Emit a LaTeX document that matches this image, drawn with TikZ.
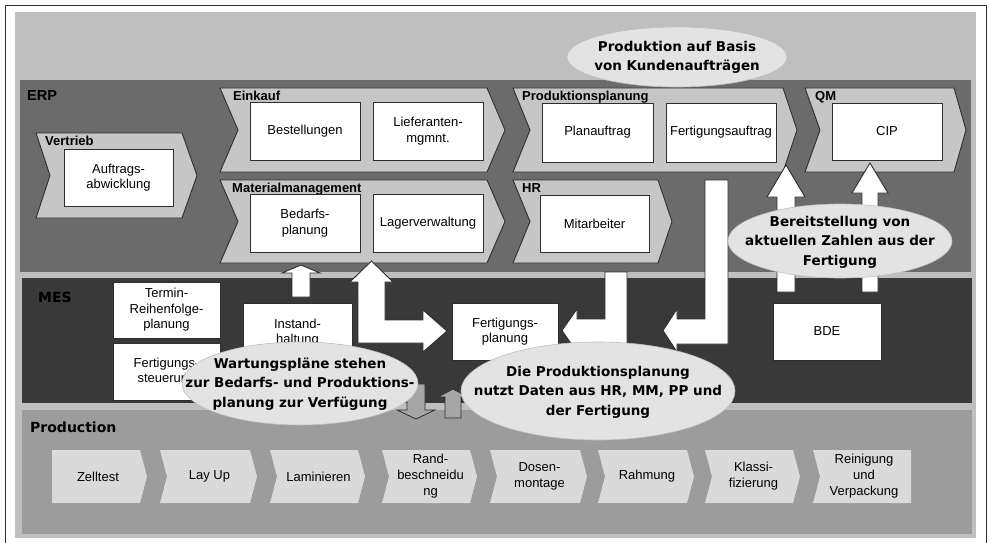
\documentclass[tikz,border=0pt]{standalone}
\usepackage{fontspec}
\setmainfont{Liberation Sans}
\newfontfamily\vfont{DejaVu Sans}
\usetikzlibrary{shapes.geometric}
\definecolor{bgc}{HTML}{BFBFBF}
\definecolor{erpc}{HTML}{6B6B6B}
\definecolor{mesc}{HTML}{393939}
\definecolor{prodc}{HTML}{9C9C9C}
\definecolor{chevc}{HTML}{C6C6C6}
\definecolor{pchevc}{HTML}{DADADA}
\definecolor{ellc}{HTML}{E3E3E3}
\definecolor{linec}{HTML}{2E2E2E}
\definecolor{garrc}{HTML}{A6A6A6}
\newcommand\pchevron[4]{%
  \fill[pchev] (#1,450) -- ({#2-7},450) -- (#2,476.5) -- ({#2-7},503) -- (#1,503) -- ({#1+7},476.5) -- cycle;
  \node[ptext] (#3) at ({(#1+#2)/2+1},476.5) {#4};}
\begin{document}
\begin{tikzpicture}[x=1pt,y=-1pt,
  box/.style={draw=linec, fill=white, line width=0.9pt, font=\fontsize{13}{15.5}\selectfont, align=center, inner sep=0pt},
  lbl/.style={font=\fontsize{13}{15}\selectfont\bfseries, anchor=base west, inner sep=0pt},
  bandlbl/.style={font=\vfont\fontsize{14}{16}\selectfont\bfseries, anchor=base west, inner sep=0pt},
  chev/.style={draw=linec, fill=chevc, line width=0.9pt, line join=miter},
  pchev/.style={fill=pchevc},
  ptext/.style={font=\fontsize{13}{16}\selectfont, align=center, inner sep=0pt},
  notebg/.style={fill=ellc, draw=black!25, line width=0.6pt},
  notetext/.style={font=\vfont\fontsize{13.5}{19.5}\selectfont\bfseries, align=center, inner sep=0pt},
  warr/.style={draw=linec, fill=white, line width=0.9pt, line join=miter},
  garr/.style={draw=linec, fill=garrc, line width=0.8pt, line join=miter}]
\useasboundingbox (0,0) rectangle (989,543);
% frame and background
\fill[white] (0,0) rectangle (989,543);
\draw[line width=1pt, black!80] (5,543) -- (5,6) -- (986,6) -- (986,543);
\fill[bgc] (15,12) rectangle (976,538);
% bands
\fill[erpc] (20,80) rectangle (971,272);
\fill[mesc] (22,278) rectangle (972,403);
\fill[prodc] (22,410) rectangle (972,534);
\node[font=\fontsize{14.5}{16}\selectfont\bfseries, anchor=base west, inner sep=0pt] (erp) at (27,100) {ERP};
\node[bandlbl] (mes) at (38,302) {MES};
\node[bandlbl] (prod) at (30,432) {Production};
% ERP chevrons
\draw[chev] (36,133) -- (182,133) -- (197,175.5) -- (182,218) -- (36,218) -- (50,175.5) -- cycle;
\draw[chev] (220,88) -- (487,88) -- (505,130) -- (487,172) -- (220,172) -- (238,130) -- cycle;
\draw[chev] (220,180) -- (487,180) -- (505,221.5) -- (487,263) -- (220,263) -- (238,221.5) -- cycle;
\draw[chev] (513,88) -- (783,88) -- (797,130) -- (783,172) -- (513,172) -- (530,130) -- cycle;
\draw[chev] (513,180) -- (658,180) -- (672,221.5) -- (658,263) -- (513,263) -- (530,221.5) -- cycle;
\draw[chev] (805,88) -- (954,88) -- (966,130) -- (954,172) -- (805,172) -- (820,130) -- cycle;
\node[lbl] (lvertrieb) at (45,145) {Vertrieb};
\node[lbl] (leinkauf) at (233,100) {Einkauf};
\node[lbl] (lmat) at (232,192) {Materialmanagement};
\node[lbl] (lpp) at (522,101) {Produktionsplanung};
\node[lbl] (lhr) at (522,192) {HR};
\node[lbl] (lqm) at (815,101) {QM};
% ERP boxes
\node[box, minimum width=109, minimum height=57] (auftrag) at (118.5,177.5) {Auftrags-\\abwicklung};
\node[box, minimum width=110, minimum height=58] (bestell) at (305,131) {Bestellungen};
\node[box, minimum width=110, minimum height=58] (liefer) at (428,131) {Lieferanten-\\mgmnt.};
\node[box, minimum width=110, minimum height=58] (bedarf) at (305,223) {Bedarfs-\\planung};
\node[box, minimum width=110, minimum height=58] (lager) at (428,223) {Lagerverwaltung};
\node[box, minimum width=111, minimum height=59] (planauf) at (597.5,132.5) {Planauftrag};
\node[box, minimum width=110, minimum height=59] (fauftrag) at (721,132.5) {Fertigungsauftrag};
\node[box, minimum width=109, minimum height=57] (mitarb) at (594.5,223.5) {Mitarbeiter};
\node[box, minimum width=110, minimum height=57] (cip) at (887,131.5) {CIP};
% MES boxes
\node[box, minimum width=107, minimum height=56] (termin) at (166.5,310) {Termin-\\Reihenfolge-\\planung};
\node[box, minimum width=107, minimum height=57] (fsteuer) at (166.5,371.5) {Fertigungs-\\steuerung};
\node[box, minimum width=109, minimum height=59] (instand) at (297.5,332.5) {Instand-\\haltung};
\node[box, minimum width=106, minimum height=57] (fplan) at (505,331.5) {Fertigungs-\\planung};
\node[box, minimum width=108, minimum height=57] (bde) at (827,331.5) {BDE};
% production chevrons
\fill[pchev] (52,450) -- (140,450) -- (147,476.5) -- (140,503) -- (52,503) -- cycle;
\node[ptext] (zell) at (98,476.5) {Zelltest};
\pchevron{160}{257}{layup}{Lay Up}
\pchevron{270}{365}{lamin}{Laminieren}
\pchevron{382}{477}{rand}{Rand-\\beschneidu\\ng}
\pchevron{490}{587}{dosen}{Dosen-\\montage}
\pchevron{598}{694}{rahm}{Rahmung}
\pchevron{705}{800}{klass}{Klassi-\\fizierung}
\fill[pchev] (813,450) -- (911,450) -- (911,503) -- (813,503) -- (820,476.5) -- cycle;
\node[ptext] (rein) at (864,476.5) {Reinigung\\und\\Verpackung};
% white block arrows
\draw[warr] (292,297) -- (292,273) -- (282,273) -- (301,265) -- (320,273) -- (310,273) -- (310,297) -- cycle;
\draw[warr] (371.5,261) -- (393,282) -- (385,282) -- (385,320) -- (423,320) -- (423,310) -- (447,331) -- (423,352) -- (423,343) -- (358,343) -- (358,282) -- (350,282) -- cycle;
\draw[warr] (605,272) -- (627,272) -- (627,344) -- (577,344) -- (577,352) -- (562,330.5) -- (577,309) -- (577,319) -- (605,319) -- cycle;
\draw[warr] (705,180) -- (728,180) -- (728,344) -- (677,344) -- (677,352) -- (663,330.5) -- (677,309) -- (677,319) -- (705,319) -- cycle;
\draw[warr] (777,292) -- (777,197) -- (767,197) -- (786,165) -- (805,197) -- (795,197) -- (795,292) -- cycle;
\draw[warr] (862,292) -- (862,193) -- (852,193) -- (870,163) -- (888,193) -- (878,193) -- (878,292) -- cycle;
% gray arrows
\draw[garr] (407,384) -- (425,384) -- (425,410) -- (435,410) -- (416,419) -- (397,410) -- (407,410) -- cycle;
\draw[garr] (445,418) -- (445,397) -- (438,397) -- (453,389) -- (468,397) -- (461,397) -- (461,418) -- cycle;
% notes
\path[notebg] (677,57) ellipse [x radius=110, y radius=30];
\node[notetext] (n1) at (677,57.5) {Produktion auf Basis\\von Kundenaufträgen};
\path[notebg] (840,241) ellipse [x radius=112, y radius=37];
\node[notetext] (n2) at (840,242) {Bereitstellung von\\aktuellen Zahlen aus der\\Fertigung};
\path[notebg] (300,383.5) ellipse [x radius=118, y radius=41.5];
\node[notetext] (n3) at (300,384) {Wartungspläne stehen\\zur Bedarfs- und Produktions-\\planung zur Verfügung};
\path[notebg] (598,391) ellipse [x radius=137, y radius=49];
\node[notetext] (n4) at (598,392) {Die Produktionsplanung\\nutzt Daten aus HR, MM, PP und\\der Fertigung};
\end{tikzpicture}
\end{document}
